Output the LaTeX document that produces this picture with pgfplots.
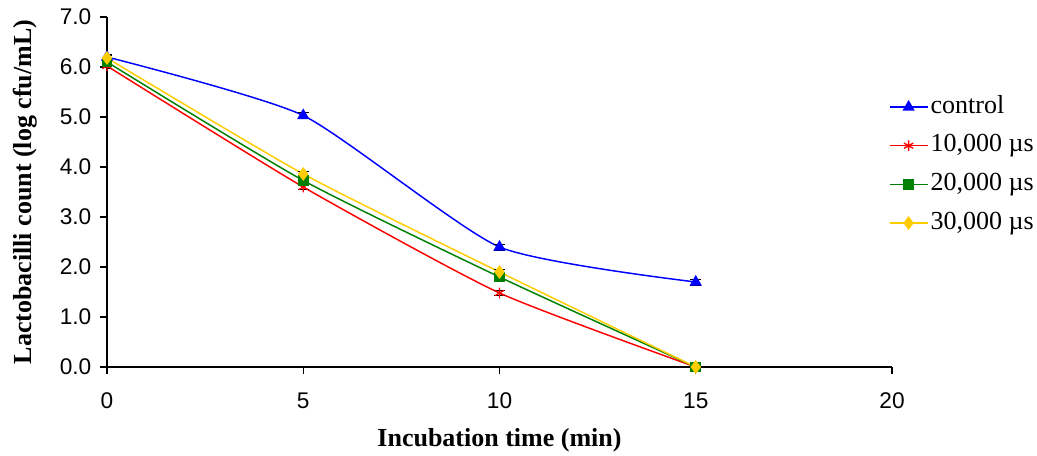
\documentclass[border=0pt]{standalone}
\usepackage{fontspec}
\setmainfont{Liberation Serif}
\newfontfamily\arial{Liberation Sans}
\usepackage{pgfplots}
\pgfplotsset{compat=1.18}
\definecolor{cblue}{RGB}{0,0,255}
\definecolor{cred}{RGB}{255,0,0}
\definecolor{cgreen}{RGB}{0,128,0}
\definecolor{cyellow}{RGB}{255,204,0}
\begin{document}
\begin{tikzpicture}
\useasboundingbox (0,0) rectangle (777.75pt,342pt);
\begin{axis}[
  at={(80.25pt,66.75pt)}, anchor=south west,
  scale only axis, width=588.75pt, height=262.5pt,
  xmin=0, xmax=20, ymin=0, ymax=7,
  axis lines=left, axis line style={-, line width=0.9pt},
  xtick={0,5,10,15,20}, ytick={0,1,2,3,4,5,6,7},
  tick align=outside, major tick length=5.25pt,
  tick style={black, line width=0.8pt},
  ticklabel style={font=\arial\fontsize{17}{19}\selectfont},
  xticklabel style={yshift=-10.5pt},
  /pgf/number format/assume math mode=true,
  yticklabel style={xshift=-3pt, /pgf/number format/.cd, fixed, fixed zerofill, precision=1},
  xlabel={Incubation time (min)},
  ylabel={Lactobacilli count (log cfu/mL)},
  label style={font=\bfseries\fontsize{19.5}{22}\selectfont},
  xlabel style={at={(axis description cs:0.5,-0.2086)}, anchor=center},
  ylabel style={at={(axis description cs:-0.1045,0.5)}, anchor=center},
  legend style={draw=none, fill=none, at={(axis description cs:0.991,0.577)}, anchor=west,
    font=\fontsize{19.5}{22}\selectfont, legend cell align=left, row sep=8pt,
    nodes={inner sep=2pt, text height=13pt, text depth=4pt}},
  legend image code/.code={\draw[mark repeat=2,mark phase=2,#1] plot coordinates {(0pt,0pt) (14pt,0pt) (28pt,0pt)};},
  every axis plot/.append style={line width=1.1pt},
]
\addplot[cblue, smooth, tension=0.35, mark=triangle*, mark size=4.2pt, mark options={solid, fill=cblue},
  error bars/.cd, y dir=both, y explicit,
  error bar style={black, line width=0.6pt}, error mark options={black, rotate=90, mark size=4pt, line width=0.6pt}]
  coordinates {(0,6.2) +- (0,0.05) (5,5.03) +- (0,0.06) (10,2.4) +- (0,0.06) (15,1.7) +- (0,0.06)};
\addlegendentry{control}
\addplot[cred, smooth, tension=0.35, mark=asterisk, mark size=4pt, mark options={solid, line width=1pt},
  error bars/.cd, y dir=both, y explicit,
  error bar style={black, line width=0.6pt}, error mark options={black, rotate=90, mark size=4pt, line width=0.6pt}]
  coordinates {(0,6.02) +- (0,0.05) (5,3.6) +- (0,0.05) (10,1.48) +- (0,0.05) (15,0) +- (0,0.04)};
\addlegendentry{10,000 µs}
\addplot[cgreen, smooth, tension=0.35, mark=square*, mark size=3.4pt, mark options={solid, fill=cgreen},
  error bars/.cd, y dir=both, y explicit,
  error bar style={black, line width=0.6pt}, error mark options={black, rotate=90, mark size=4pt, line width=0.6pt}]
  coordinates {(0,6.1) +- (0,0.05) (5,3.73) +- (0,0.06) (10,1.8) +- (0,0.05) (15,0) +- (0,0.04)};
\addlegendentry{20,000 µs}
\addplot[cyellow, smooth, tension=0.35, mark=diamond*, mark size=4.3pt, mark options={solid, fill=cyellow},
  error bars/.cd, y dir=both, y explicit,
  error bar style={black, line width=0.6pt}, error mark options={black, rotate=90, mark size=4pt, line width=0.6pt}]
  coordinates {(0,6.18) +- (0,0.05) (5,3.86) +- (0,0.06) (10,1.9) +- (0,0.06) (15,0) +- (0,0.04)};
\addlegendentry{30,000 µs}
\end{axis}
\end{tikzpicture}
\end{document}
